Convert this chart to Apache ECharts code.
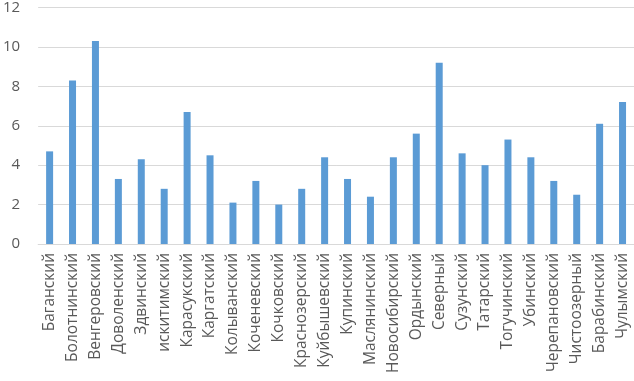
<!DOCTYPE html>
<html>
<head>
<meta charset="utf-8">
<script src="https://cdn.jsdelivr.net/npm/echarts@6/dist/echarts.min.js"></script>
<style>
  html, body { margin: 0; padding: 0; background: #fff; }
  #chart { width: 634px; height: 381px; }
</style>
</head>
<body>
<div id="chart"></div>
<script>
// районы
const districts = [
  'Баганский', 'Болотнинский', 'Венгеровский', 'Доволенский', 'Здвинский',
  'искитимский', 'Карасукский', 'Каргатский', 'Колыванский', 'Коченевский',
  'Кочковский', 'Краснозерский', 'Куйбышевский', 'Купинский', 'Маслянинский',
  'Новосибирский', 'Ордынский', 'Северный', 'Сузунский', 'Татарский',
  'Тогучинский', 'Убинский', 'Черепановский', 'Чистоозерный', 'Барабинский',
  'Чулымский'
];
const values = [
  4.7, 8.3, 10.3, 3.3, 4.3, 2.8, 6.7, 4.5, 2.1, 3.2,
  2.0, 2.8, 4.4, 3.3, 2.4, 4.4, 5.6, 9.2, 4.6, 4.0,
  5.3, 4.4, 3.2, 2.5, 6.1, 7.2
];
const yTicks = { min: 0, max: 12, interval: 2 };

const chart = echarts.init(document.getElementById('chart'), null, { renderer: 'canvas' });
chart.setOption({
  animation: false,
  textStyle: { fontFamily: 'Open Sans' },
  grid: { left: 35, right: 0, top: 7, bottom: 137, containLabel: false },
  xAxis: {
    type: 'category',
    data: districts,
    axisLine: { lineStyle: { color: '#d9d9d9', width: 1 } },
    axisTick: { show: false },
    axisLabel: {
      interval: 0,
      rotate: 90,
      margin: 9,
      color: '#595959',
      fontSize: 15.5,
      fontFamily: 'Open Sans'
    }
  },
  yAxis: {
    type: 'value',
    min: yTicks.min,
    max: yTicks.max,
    interval: yTicks.interval,
    axisLine: { show: false },
    axisTick: { show: false },
    splitLine: { lineStyle: { color: '#d9d9d9', width: 1 } },
    axisLabel: { color: '#595959', fontSize: 15, margin: 18, fontFamily: 'Open Sans' }
  },
  series: [
    {
      type: 'bar',
      data: values,
      barWidth: 7,
      itemStyle: { color: '#5b9bd5' }
    }
  ]
});
</script>
</body>
</html>
